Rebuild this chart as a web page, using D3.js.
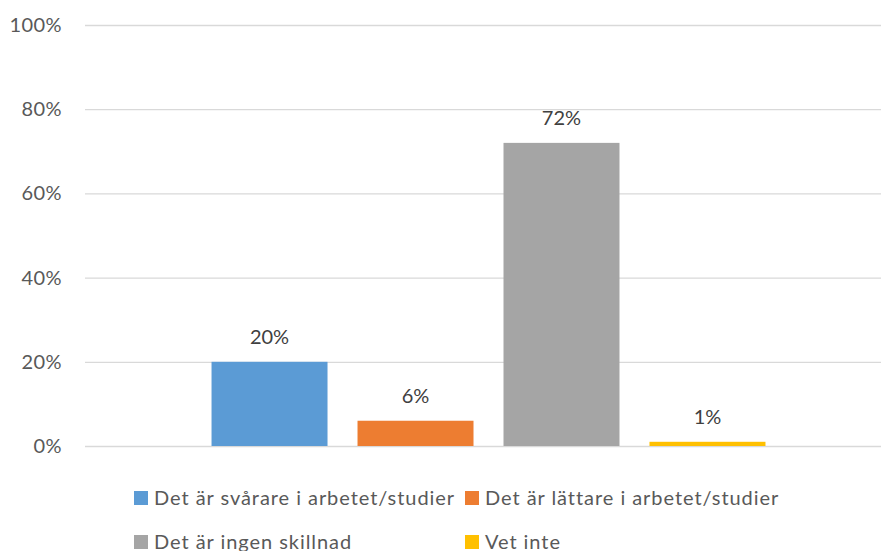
<!DOCTYPE html>
<html>
<head>
<meta charset="utf-8">
<script src="https://cdn.jsdelivr.net/npm/d3@7"></script>
<style>
  body { margin: 0; background: #fff; }
  svg text { font-family: Lato, "Open Sans", sans-serif; }
</style>
</head>
<body>
<svg id="chart"></svg>
<script>
// Data
var categories = ["Totalt"];
var seriesNames = [
  "Det är svårare i arbetet/studier",
  "Det är lättare i arbetet/studier",
  "Det är ingen skillnad",
  "Vet inte"
];
var seriesValues = [0.20, 0.06, 0.72, 0.01];
var seriesColors = ["#5B9BD5", "#ED7D31", "#A5A5A5", "#FFC000"];
var yTicks = [0, 0.2, 0.4, 0.6, 0.8, 1.0];

// Set up the SVG dimensions and plot area
var svgWidth = 881;
var svgHeight = 551;
var plot = { left: 85, right: 892, top: 25, bottom: 446 };

var svg = d3.select("#chart")
  .attr("width", svgWidth)
  .attr("height", svgHeight);

// Scales
var x0 = d3.scaleBand()
  .domain(categories)
  .range([plot.left, plot.right])
  .paddingOuter(0.191);

var x1 = d3.scaleBand()
  .domain(seriesNames)
  .range([0, x0.bandwidth()])
  .paddingInner(30 / 146)
  .paddingOuter(15 / 146);

var yScale = d3.scaleLinear()
  .domain([0, 1])
  .range([plot.bottom, plot.top]);

// Y axis with gridlines
var yAxis = svg.append("g")
  .attr("class", "axis")
  .attr("transform", "translate(" + plot.left + ",0)")
  .call(d3.axisLeft(yScale)
    .tickValues(yTicks)
    .tickFormat(d3.format(".0%"))
    .tickSize(-(plot.right - plot.left))
    .tickPadding(23));

yAxis.select(".domain").remove();
yAxis.selectAll(".tick line")
  .attr("stroke", "#D9D9D9")
  .attr("stroke-width", 1.3);
yAxis.selectAll(".tick text")
  .attr("fill", "#595959")
  .style("font-size", "20px")
  .style("letter-spacing", "0.4px");

// Bars
var group = svg.append("g")
  .attr("transform", "translate(" + x0(categories[0]) + ",0)");

group.selectAll(".bar")
  .data(seriesNames)
  .enter()
  .append("rect")
  .attr("class", "bar")
  .attr("x", function (d) { return x1(d); })
  .attr("y", function (d, i) { return yScale(seriesValues[i]); })
  .attr("width", x1.bandwidth())
  .attr("height", function (d, i) { return plot.bottom - yScale(seriesValues[i]); })
  .attr("fill", function (d, i) { return seriesColors[i]; });

// Value labels
group.selectAll(".bar-value")
  .data(seriesNames)
  .enter()
  .append("text")
  .attr("class", "bar-value")
  .attr("x", function (d) { return x1(d) + x1.bandwidth() / 2; })
  .attr("y", function (d, i) { return yScale(seriesValues[i]) - 18; })
  .attr("text-anchor", "middle")
  .attr("fill", "#404040")
  .style("font-size", "20px")
  .text(function (d, i) { return d3.format(".0%")(seriesValues[i]); });

// Legend, two columns
var legend = svg.append("g").attr("class", "legend");
var legendItems = legend.selectAll(".legend-item")
  .data(seriesNames)
  .enter()
  .append("g")
  .attr("class", "legend-item")
  .attr("transform", function (d, i) {
    var col = i % 2, row = Math.floor(i / 2);
    return "translate(" + (134 + col * 331) + "," + (491 + row * 44) + ")";
  });

legendItems.append("rect")
  .attr("width", 14)
  .attr("height", 14)
  .attr("fill", function (d, i) { return seriesColors[i]; });

legendItems.append("text")
  .attr("x", 20)
  .attr("y", 14)
  .attr("fill", "#595959")
  .style("font-size", "20px")
  .style("letter-spacing", "0.95px")
  .text(function (d) { return d; });
</script>
</body>
</html>
